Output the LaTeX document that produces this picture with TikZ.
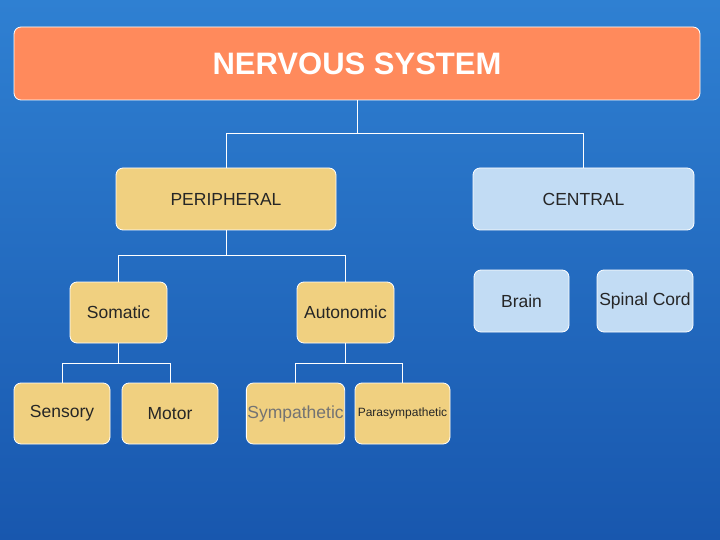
\documentclass[tikz,border=0pt]{standalone}
\usepackage{fontspec}
\setmainfont{Liberation Sans}
\begin{document}
\begin{tikzpicture}[x=1pt,y=-1pt,
  box/.style={draw=white,line width=0.8pt,rounded corners=7pt,font=\fontsize{17.5}{20}\selectfont,text=black!85,inner sep=1pt},
  tan/.style={box,fill=tanc},
  lb/.style={box,fill=lbc},
  con/.style={draw=white,line width=0.7pt}]
\definecolor{tanc}{HTML}{F0D080}
\definecolor{lbc}{HTML}{C2DCF4}
\definecolor{orc}{HTML}{FF8A5C}
\definecolor{bgtop}{HTML}{2F80D2}
\definecolor{bgbot}{HTML}{1857AE}
\shade[top color=bgtop,bottom color=bgbot] (0,0) rectangle (720,540);
\useasboundingbox (0,0) rectangle (720,540);
\node[box,fill=orc,minimum width=686pt,minimum height=73pt,font=\fontsize{31}{34}\selectfont\bfseries,text=white] (ns) at (357,63.5) {NERVOUS SYSTEM};
\node[tan,minimum width=220pt,minimum height=62pt] (per) at (226,199) {PERIPHERAL};
\node[lb,minimum width=221pt,minimum height=62pt] (cen) at (583.5,199) {CENTRAL};
\node[tan,minimum width=97pt,minimum height=61pt] (som) at (118.5,312.5) {Somatic};
\node[tan,minimum width=97pt,minimum height=61pt] (aut) at (345.5,312.5) {Autonomic};
\node[lb,minimum width=95pt,minimum height=62pt] (br) at (521.5,301) {Brain};
\node[lb,minimum width=96pt,minimum height=62pt] (sp) at (645,301) {Spinal Cord};
\node[tan,minimum width=96pt,minimum height=61pt] (sen) at (62,413.5) {Sensory};
\node[tan,minimum width=96pt,minimum height=61pt] (mot) at (170,413.5) {Motor};
\node[tan,minimum width=95pt,minimum height=61pt,text=black!55] (sym) at (295.5,413.5) {Sympathetic};
\node[tan,minimum width=95pt,minimum height=61pt,font=\fontsize{12}{14}\selectfont] (par) at (402.5,413.5) {Parasympathetic};
\draw[con] (ns.south) -- ++(0,33) -| (per.north);
\draw[con] (ns.south) ++(0,33) -| (cen.north);
\draw[con] (per.south) -- ++(0,25) -| (som.north);
\draw[con] (per.south) ++(0,25) -| (aut.north);
\draw[con] (som.south) -- ++(0,20) -| (sen.north);
\draw[con] (som.south) ++(0,20) -| (mot.north);
\draw[con] (aut.south) -- ++(0,20) -| (sym.north);
\draw[con] (aut.south) ++(0,20) -| (par.north);
\end{tikzpicture}
\end{document}
